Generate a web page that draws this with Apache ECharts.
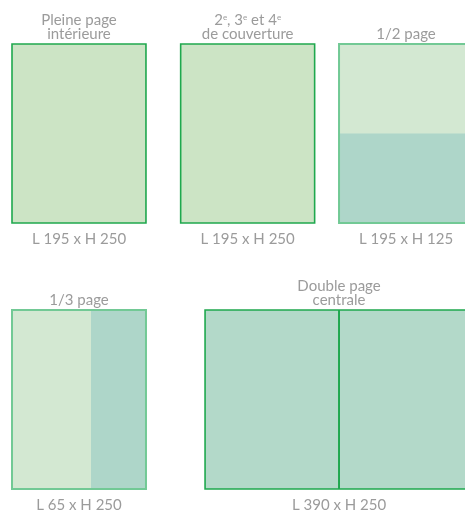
<!DOCTYPE html>
<html><head><meta charset="utf-8">
<script src="https://cdn.jsdelivr.net/npm/echarts@6/dist/echarts.min.js"></script>
<style>html,body{margin:0;padding:0;background:#fff}#c{width:465px;height:511px}</style>
</head><body><div id="c"></div>
<script>
// Formats (titles), ad dimensions in mm, size labels
const formatTitles = ['Pleine page\nintérieure', '2{s|e}, 3{s|e} et 4{s|e}\nde couverture', '1/2 page', '1/3 page', 'Double page\ncentrale'];
const adWidthMm = [195, 195, 195, 80, 390];
const adHeightMm = [250, 250, 125, 250, 250];
const sizeLabels = ['L 195 x H 250', 'L 195 x H 250', 'L 195 x H 125', 'L 65 x H 250', 'L 390 x H 250'];
const pageWidthMm = 195, pageHeightMm = 250;

// layout (mm on the hidden axes)
const slots = [[0, 0], [245.5, 0], [476, 0], [0, 371.5], [281, 371.5]];
const pagesCount = [1, 1, 1, 1, 2];

const chart = echarts.init(document.getElementById('c'), null, {renderer: 'canvas'});
const TXT = '#9b9b9b';
const FONT = '15px Lato';

function renderItem(params, api) {
  const i = api.value(0);
  const [ox, oy] = slots[i];
  const n = pagesCount[i];
  const pw = pageWidthMm * n, ph = pageHeightMm;
  const p0 = api.coord([ox, oy]);
  const p1 = api.coord([ox + pw, oy + ph]);
  const aw = adWidthMm[i], ah = adHeightMm[i];
  const a0 = api.coord([ox + pw - aw, oy + ph - ah]);
  const children = [];
  const partial = aw < pw || ah < ph;
  const lightFill = partial ? '#d3e8d2' : (n === 2 ? '#b3d9c9' : '#cce4c5');
  const darkFill = n === 2 ? '#b3d9c9' : '#aed6c9';
  const stroke = partial ? '#72c995' : '#1fa84e';
  children.push({type: 'rect', shape: {x: p0[0], y: p0[1], width: p1[0] - p0[0], height: p1[1] - p0[1]},
    style: {fill: lightFill, stroke: 'none'}});
  if (partial) {
    children.push({type: 'rect', shape: {x: a0[0], y: a0[1], width: p1[0] - a0[0], height: p1[1] - a0[1]},
      style: {fill: darkFill, stroke: 'none'}});
  }
  children.push({type: 'rect', shape: {x: p0[0], y: p0[1], width: p1[0] - p0[0], height: p1[1] - p0[1]},
    style: {fill: 'none', stroke: stroke, lineWidth: partial ? 2 : 1.6}});
  if (n === 2) {
    const m = api.coord([ox + pageWidthMm, oy]);
    children.push({type: 'line', shape: {x1: m[0], y1: p0[1], x2: m[0], y2: p1[1]},
      style: {stroke: stroke, lineWidth: 2}});
  }
  const cx = (p0[0] + p1[0]) / 2;
  children.push({type: 'text', style: {text: formatTitles[i], x: cx, y: p0[1] - 3,
    align: 'center', verticalAlign: 'bottom', fill: TXT, font: FONT, lineHeight: 14,
    rich: {s: {fontSize: 8, fontFamily: 'Lato', fill: TXT, verticalAlign: 'top', lineHeight: 14, padding: [0, 0, 6, 0]}}}});
  children.push({type: 'text', style: {text: sizeLabels[i], x: cx, y: p1[1] + 16,
    align: 'center', verticalAlign: 'middle', fill: TXT, font: FONT}});
  return {type: 'group', children};
}

chart.setOption({
  animation: false,
  grid: {left: 12, top: 44, width: 461, height: 445, outerBoundsMode: 'none', containLabel: false},
  xAxis: {type: 'value', min: 0, max: 671, show: false},
  yAxis: {type: 'value', min: 0, max: 621.5, inverse: true, show: false},
  series: [{type: 'custom', renderItem, clip: false, data: formatTitles.map((_, i) => [i])}]
});
</script></body></html>
